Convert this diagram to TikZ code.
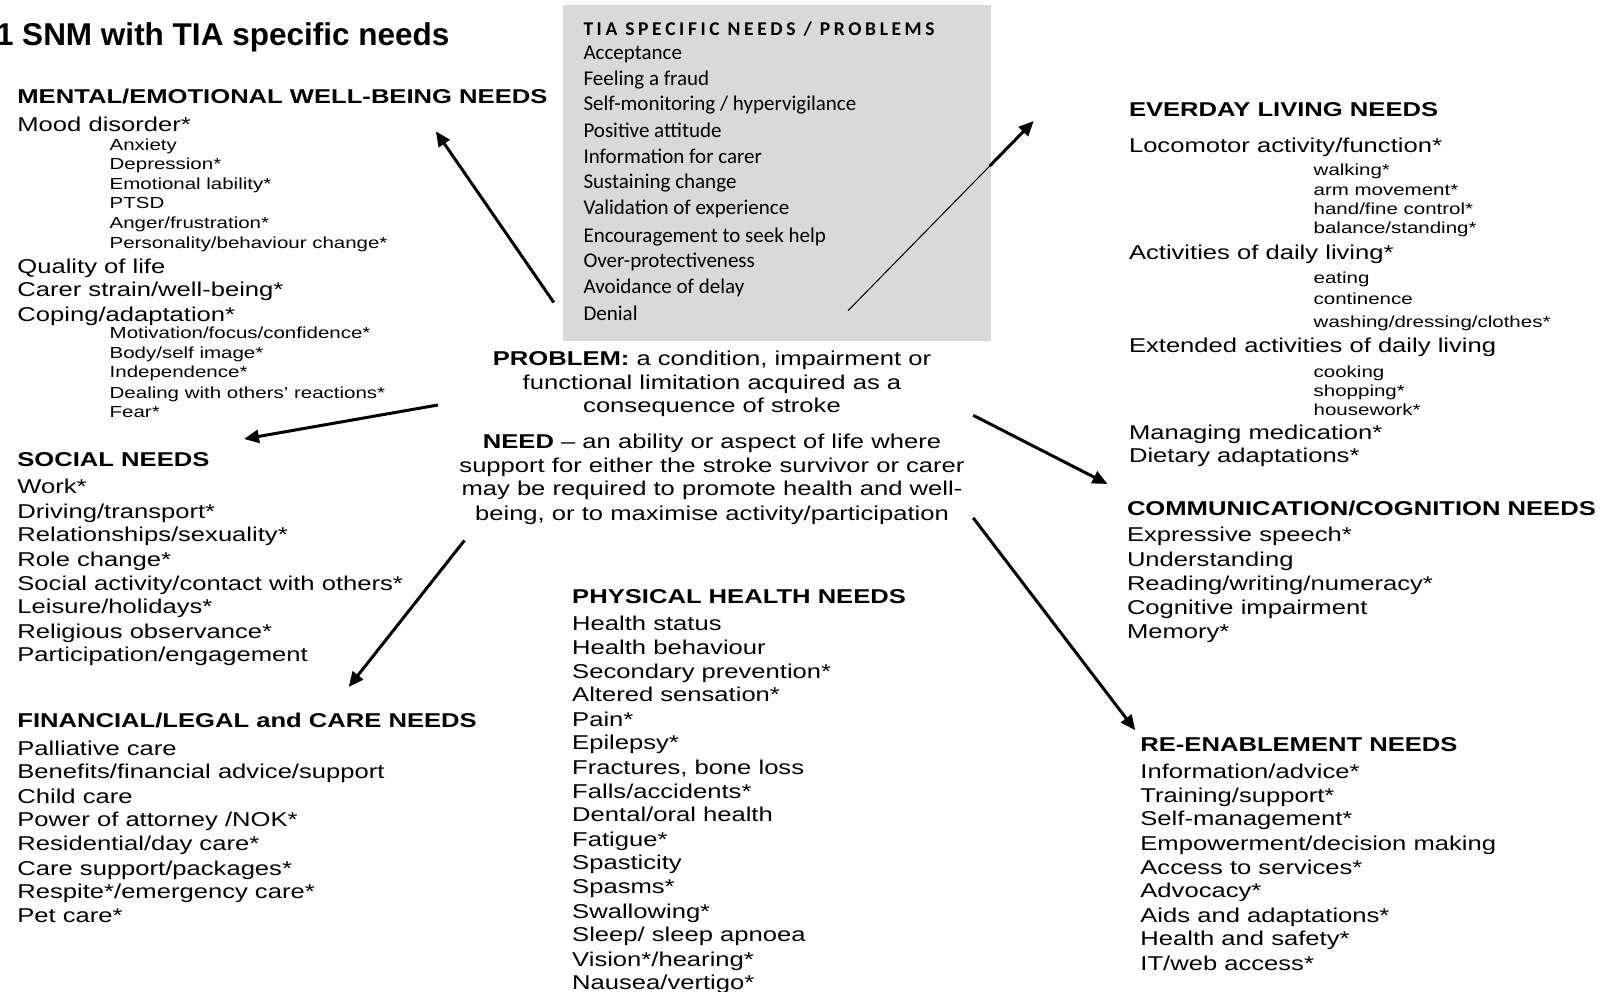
\documentclass[tikz,border=0pt]{standalone}
\usepackage{fontspec}
\setmainfont{Liberation Sans}
\newfontfamily\widesans{Liberation Sans}[FakeStretch=1.28]
\newfontfamily\calfont{Carlito}
\usetikzlibrary{arrows.meta}
\definecolor{boxgray}{HTML}{D9D9D9}
% letter-spaced word for the boxed heading
\ExplSyntaxOn
\NewDocumentCommand\tracked{m}{\tl_map_inline:nn{#1}{##1\kern 3.6pt}}
\ExplSyntaxOff
\tikzset{
  every node/.style={inner sep=0pt, outer sep=0pt},
  head/.style={anchor=west, yshift=-2.5pt, font=\widesans\bfseries\fontsize{20}{24}\selectfont, text height=14pt, text depth=2pt},
  item/.style={anchor=west, yshift=-2.5pt, font=\widesans\fontsize{20}{24}\selectfont, text height=14pt, text depth=2pt},
  subitem/.style={anchor=west, yshift=-2pt, font=\widesans\fontsize{16}{19}\selectfont, text height=11.2pt, text depth=1.6pt},
  centre/.style={anchor=center, yshift=-1.5pt, font=\widesans\fontsize{20}{24}\selectfont, text height=14pt, text depth=2pt},
  tiahead/.style={anchor=west, yshift=-1pt, font=\calfont\bfseries\fontsize{19.5}{23}\selectfont, text height=12.6pt, text depth=1.8pt},
  tiaitem/.style={anchor=west, yshift=-1pt, font=\calfont\fontsize{21}{26}\selectfont, text height=14.7pt, text depth=2.1pt},
  titletext/.style={anchor=west, yshift=-1pt, font=\bfseries\fontsize{31.5}{36}\selectfont, text height=22pt, text depth=3pt},
  arrow/.style={line width=3pt, -{Triangle[length=15pt,width=13pt]}},
  thinline/.style={line width=1pt}
}
\begin{document}
\begin{tikzpicture}[x=1pt,y=-1pt]
\useasboundingbox (0,0) rectangle (1608,992);

% title
\node[titletext] (title) at (-4,35) {1 SNM with TIA specific needs};

% grey box of TIA specific needs
\node[fill=boxgray, anchor=north west, minimum width=427.6pt, minimum height=335.4pt] (tiabox) at (563,5.1) {};
\node[tiahead] (tiahdr) at (583.5,28.7) {\tracked{TIA}\ \tracked{SPECIFIC}\ \tracked{NEEDS}\ \tracked{/}\ \tracked{PROBLEMS}};
\foreach \y/\t [count=\i] in {52.3/Acceptance, 78/{Feeling a fraud}, 103.6/{Self-monitoring / hypervigilance},
  130.2/{Positive attitude}, 155.9/{Information for carer}, 181.5/{Sustaining change},
  207.2/{Validation of experience}, 234.8/{Encouragement to seek help}, 260.5/{Over-protectiveness},
  286.1/{Avoidance of delay}, 312.8/Denial}
  \node[tiaitem] (tia-\i) at (583.5,\y) {\t};

% mental / emotional well-being
\node[head] (mental) at (17.4,95.4) {MENTAL/EMOTIONAL WELL-BEING NEEDS};
\foreach \y/\t [count=\i] in {123/{Mood disorder*}, 264.6/{Quality of life}, 288/{Carer strain/well-being*}, 312.8/{Coping/adaptation*}}
  \node[item] (mental-\i) at (17.4,\y) {\t};
\foreach \y/\t [count=\i] in {143.6/Anxiety, 163/{Depression*}, 182.5/{Emotional lability*}, 202/PTSD,
  221.5/{Anger/frustration*}, 242/{Personality/behaviour change*},
  332/{Motivation/focus/confidence*}, 351.7/{Body/self image*}, 371/{Independence*},
  391.7/{Dealing with others’ reactions*}, 411/{Fear*}}
  \node[subitem] (mental-sub-\i) at (109.7,\y) {\t};

% social
\node[head] (social) at (17.4,458.4) {SOCIAL NEEDS};
\foreach \y/\t [count=\i] in {485/{Work*}, 509.7/{Driving/transport*}, 533/{Relationships/sexuality*},
  557.9/{Role change*}, 581.5/{Social activity/contact with others*}, 605/{Leisure/holidays*},
  629.7/{Religious observance*}, 653/{Participation/engagement}}
  \node[item] (social-\i) at (17.4,\y) {\t};

% financial / legal and care
\node[head] (financial) at (17.4,719) {FINANCIAL/LEGAL and CARE NEEDS};
\foreach \y/\t [count=\i] in {746.6/{Palliative care}, 770/{Benefits/financial advice/support}, 794.8/{Child care},
  818/{Power of attorney /NOK*}, 842/{Residential/day care*}, 866.5/{Care support/packages*},
  890/{Respite*/emergency care*}, 913.7/{Pet care*}}
  \node[item] (financial-\i) at (17.4,\y) {\t};

% physical health
\node[head] (physical) at (572.2,594.8) {PHYSICAL HEALTH NEEDS};
\foreach \y/\t [count=\i] in {621.5/{Health status}, 646/{Health behaviour}, 669.7/{Secondary prevention*},
  693.2/{Altered sensation*}, 717.9/{Pain*}, 741.4/{Epilepsy*}, 766/{Fractures, bone loss},
  789.6/{Falls/accidents*}, 813.2/{Dental/oral health}, 837.8/{Fatigue*}, 861.4/{Spasticity},
  885/{Spasms*}, 909.6/{Swallowing*}, 933.2/{Sleep/ sleep apnoea}, 957.8/{Vision*/hearing*},
  981.4/{Nausea/vertigo*}}
  \node[item] (physical-\i) at (572.2,\y) {\t};

% everyday living
\node[head] (everyday) at (1129,107.7) {EVERDAY LIVING NEEDS};
\foreach \y/\t [count=\i] in {143.6/{Locomotor activity/function*}, 251.2/{Activities of daily living*},
  343.5/{Extended activities of daily living}, 430.7/{Managing medication*}, 454.3/{Dietary adaptations*}}
  \node[item] (everyday-\i) at (1129,\y) {\t};
\foreach \y/\t [count=\i] in {169.2/{walking*}, 188.7/{arm movement*}, 208.2/{hand/fine control*},
  226.6/{balance/standing*}, 276.9/eating, 297.4/continence, 321/{washing/dressing/clothes*},
  370.2/cooking, 389.7/{shopping*}, 408.2/{housework*}}
  \node[subitem] (everyday-sub-\i) at (1313.7,\y) {\t};

% communication / cognition
\node[head] (communication) at (1127,506.6) {COMMUNICATION/COGNITION NEEDS};
\foreach \y/\t [count=\i] in {533.3/{Expressive speech*}, 557.9/Understanding, 581.5/{Reading/writing/numeracy*},
  606/{Cognitive impairment}, 629.7/{Memory*}}
  \node[item] (communication-\i) at (1127,\y) {\t};

% re-enablement
\node[head] (reenable) at (1140.4,742.5) {RE-ENABLEMENT NEEDS};
\foreach \y/\t [count=\i] in {770/{Information/advice*}, 793.8/{Training/support*}, 817.3/{Self-management*},
  842/{Empowerment/decision making}, 865.5/{Access to services*}, 889/{Advocacy*},
  913.7/{Aids and adaptations*}, 937.3/{Health and safety*}, 962/{IT/web access*}}
  \node[item] (reenable-\i) at (1140.4,\y) {\t};

% definitions in the middle
\node[centre] (problem-1) at (712,358) {\textbf{PROBLEM:} a condition, impairment or};
\node[centre] (problem-2) at (712,381.5) {functional limitation acquired as a};
\node[centre] (problem-3) at (712,405) {consequence of stroke};
\node[centre] (need-1) at (712,441) {\textbf{NEED} – an ability or aspect of life where};
\node[centre] (need-2) at (712,464.6) {support for either the stroke survivor or carer};
\node[centre] (need-3) at (712,488) {may be required to promote health and well-};
\node[centre] (need-4) at (712,512.8) {being, or to maximise activity/participation};

% connector end points
\coordinate (from-mental) at (553.8,302.5);  \coordinate (to-mental) at (435.8,131.3);
\coordinate (from-social) at (437.9,405);    \coordinate (to-social) at (244,439);
\coordinate (from-financial) at (464.5,540.4); \coordinate (to-financial) at (348.7,687);
\coordinate (from-everyday) at (848,310.7);  \coordinate (edge-everyday) at (989.6,166.1);
\coordinate (to-everyday) at (1033.7,121);
\coordinate (from-communication) at (973.2,415.3); \coordinate (to-communication) at (1107.5,484);
\coordinate (from-reenable) at (973.2,517.9); \coordinate (to-reenable) at (1135.2,730.2);

% connectors
\draw[arrow] (from-mental) -- (to-mental);
\draw[arrow] (from-social) -- (to-social);
\draw[arrow] (from-financial) -- (to-financial);
\draw[thinline] (from-everyday) -- (edge-everyday);
\draw[arrow] (edge-everyday) -- (to-everyday);
\draw[arrow] (from-communication) -- (to-communication);
\draw[arrow] (from-reenable) -- (to-reenable);
\end{tikzpicture}
\end{document}
